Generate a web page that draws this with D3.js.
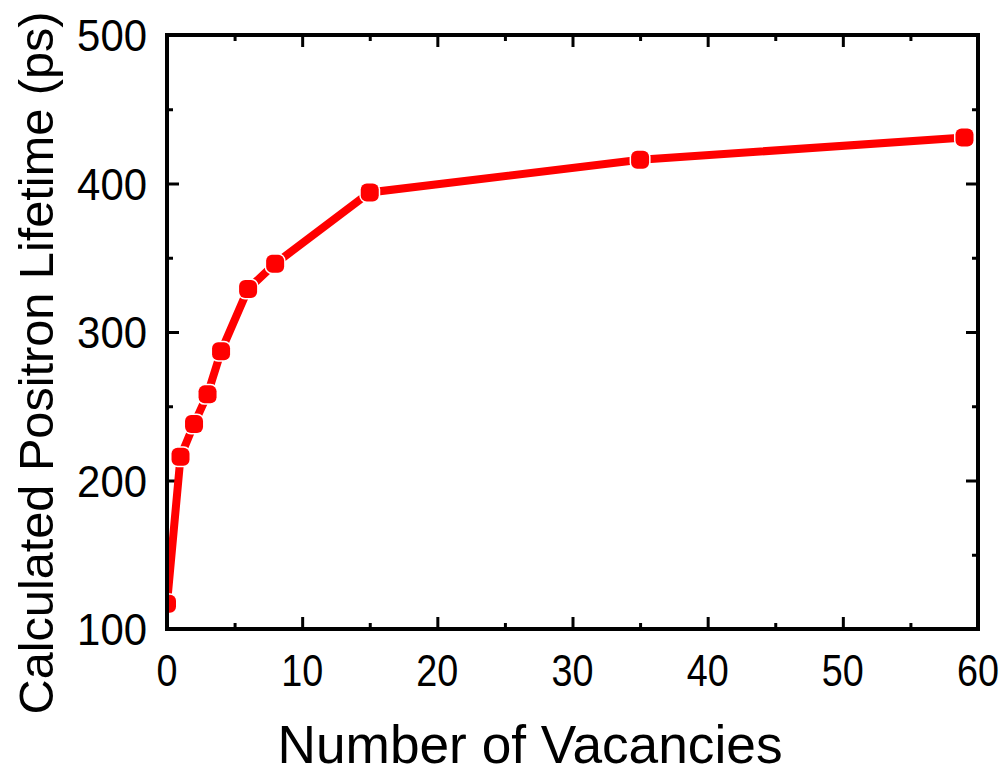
<!DOCTYPE html>
<html>
<head>
<meta charset="utf-8">
<script src="https://cdn.jsdelivr.net/npm/d3@7"></script>
<style>
  html, body { margin: 0; padding: 0; background: #fff; }
  svg { display: block; }
  text { font-family: "Liberation Sans", Arial, sans-serif; fill: #000; }
</style>
</head>
<body>
<svg id="chart" width="1006" height="775"></svg>
<script>
// Data
const vacancies = [0, 1, 2, 3, 4, 6, 8, 15, 35, 59];
const lifetimes = [117, 216, 238, 258, 287, 329, 346, 394, 416, 431];
const xTicks = [0, 10, 20, 30, 40, 50, 60];
const yTicks = [100, 200, 300, 400, 500];
const xLabel = "Number of Vacancies";
const yLabel = "Calculated Positron Lifetime (ps)";

const W = 1006, H = 775;
const pLeft = 167, pRight = 978, pTop = 35, pBottom = 629;

const svg = d3.select("#chart");
const x = d3.scaleLinear().domain([0, 60]).range([pLeft, pRight]);
const y = d3.scaleLinear().domain([100, 500]).range([pBottom, pTop]);

svg.append("defs").append("clipPath").attr("id", "plotclip")
  .append("rect").attr("x", pLeft).attr("y", pTop - 20)
  .attr("width", pRight - pLeft + 20).attr("height", pBottom - pTop + 20);

const majorLen = 12, minorLen = 6;
const xMinor = d3.range(5, 60, 10);
const yMinor = d3.range(150, 500, 100);

const axisG = svg.append("g");
const bAxis = d3.axisBottom(x).tickValues(xTicks).tickSize(-majorLen).tickFormat("");
const bAxisMinor = d3.axisBottom(x).tickValues(xMinor).tickSize(-minorLen).tickFormat("");
const tAxis = d3.axisTop(x).tickValues(xTicks).tickSize(-majorLen).tickFormat("");
const tAxisMinor = d3.axisTop(x).tickValues(xMinor).tickSize(-minorLen).tickFormat("");
const lAxis = d3.axisLeft(y).tickValues(yTicks).tickSize(-majorLen).tickFormat("");
const lAxisMinor = d3.axisLeft(y).tickValues(yMinor).tickSize(-minorLen).tickFormat("");
const rAxis = d3.axisRight(y).tickValues(yTicks).tickSize(-majorLen).tickFormat("");
const rAxisMinor = d3.axisRight(y).tickValues(yMinor).tickSize(-minorLen).tickFormat("");

function addAxis(ax, tr) {
  const g = axisG.append("g").attr("transform", tr).call(ax);
  g.select(".domain").remove();
  g.selectAll(".tick line").attr("stroke", "#000").attr("stroke-width", 3);
  return g;
}
addAxis(bAxis, `translate(0,${pBottom})`);
addAxis(bAxisMinor, `translate(0,${pBottom})`);
addAxis(tAxis, `translate(0,${pTop})`);
addAxis(tAxisMinor, `translate(0,${pTop})`);
addAxis(lAxis, `translate(${pLeft},0)`);
addAxis(lAxisMinor, `translate(${pLeft},0)`);
addAxis(rAxis, `translate(${pRight},0)`);
addAxis(rAxisMinor, `translate(${pRight},0)`);

// data line + markers
const pts = vacancies.map((v, i) => ({ v, t: lifetimes[i] }));
const dataG = svg.append("g").attr("clip-path", "url(#plotclip)");
dataG.append("path")
  .datum(pts)
  .attr("fill", "none")
  .attr("stroke", "#ff0000")
  .attr("stroke-width", 8)
  .attr("d", d3.line().x(d => x(d.v)).y(d => y(d.t)));

const ms = 18;
dataG.selectAll("rect.m").data(pts).enter().append("rect")
  .attr("class", "m")
  .attr("x", d => x(d.v) - ms / 2)
  .attr("y", d => y(d.t) - ms / 2)
  .attr("width", ms).attr("height", ms)
  .attr("rx", 6).attr("ry", 6)
  .attr("fill", "#ff0000")
  .attr("stroke", "#fff")
  .attr("stroke-width", 3)
  .attr("paint-order", "stroke");

// frame
svg.append("rect")
  .attr("x", pLeft).attr("y", pTop)
  .attr("width", pRight - pLeft).attr("height", pBottom - pTop)
  .attr("fill", "none").attr("stroke", "#000").attr("stroke-width", 4);

// tick labels
svg.append("g").selectAll("text").data(xTicks).enter().append("text")
  .attr("x", d => x(d)).attr("y", 686)
  .attr("text-anchor", "middle")
  .attr("font-size", 45)
  .attr("textLength", d => String(d).length * 21)
  .attr("lengthAdjust", "spacingAndGlyphs")
  .text(d => d);

svg.append("g").selectAll("text").data(yTicks).enter().append("text")
  .attr("x", 147).attr("y", d => y(d) + 16)
  .attr("text-anchor", "end")
  .attr("font-size", 45)
  .attr("textLength", d => String(d).length * 23.3)
  .attr("lengthAdjust", "spacingAndGlyphs")
  .text(d => d);

// axis titles
svg.append("text")
  .attr("x", 530).attr("y", 763)
  .attr("text-anchor", "middle")
  .attr("font-size", 53)
  .attr("textLength", 505)
  .attr("lengthAdjust", "spacingAndGlyphs")
  .text(xLabel);

svg.append("text")
  .attr("transform", "translate(53,363) rotate(-90)")
  .attr("text-anchor", "middle")
  .attr("font-size", 48)
  .attr("textLength", 703)
  .attr("lengthAdjust", "spacingAndGlyphs")
  .text(yLabel);
</script>
</body>
</html>
